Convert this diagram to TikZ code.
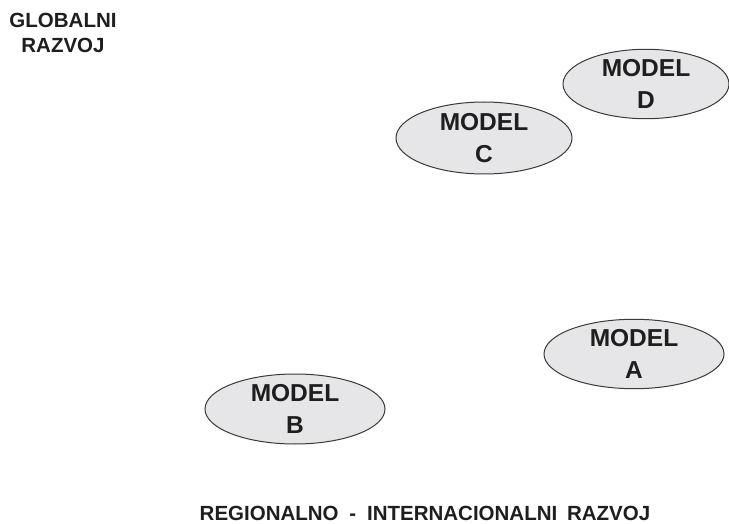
\documentclass[tikz,border=0pt]{standalone}
\usepackage{fontspec}
\setmainfont{Liberation Sans}
\usetikzlibrary{shapes.geometric}
\definecolor{ellfill}{HTML}{E6E6E8}
\definecolor{ellline}{HTML}{3A3A3A}
\definecolor{txt}{HTML}{1E1E1E}
\tikzset{
  modelbox/.style={ellipse, draw=ellline, line width=1pt, fill=ellfill, inner sep=0pt,
    align=center, text=txt, font=\bfseries\fontsize{24.5}{32}\selectfont},
  axislabel/.style={align=center, text=txt, inner sep=0pt}
}
\begin{document}
\begin{tikzpicture}[x=1pt,y=-1pt]
\useasboundingbox (0,0) rectangle (729,524);
\node[modelbox, minimum width=176pt, minimum height=72pt] (C) at (484,138) {MODEL\\C};
\node[modelbox, minimum width=166pt, minimum height=68pt] (D) at (646,84) {MODEL\\D};
\node[modelbox, minimum width=180pt, minimum height=68pt] (A) at (634,354) {MODEL\\A};
\node[modelbox, minimum width=180pt, minimum height=70pt] (B) at (295,409) {MODEL\\B};
\node[axislabel, anchor=base, font=\bfseries\fontsize{20.5}{25}\selectfont] (glob) at (63,53) {GLOBALNI\\RAZVOJ};
\node[axislabel, anchor=base, font=\bfseries\fontsize{20.5}{24}\selectfont] (reg) at (425,520.5) {REGIONALNO\hspace{0.25em} - \hspace{0.25em}INTERNACIONALNI\hspace{0.2em} RAZVOJ};
\end{tikzpicture}
\end{document}
